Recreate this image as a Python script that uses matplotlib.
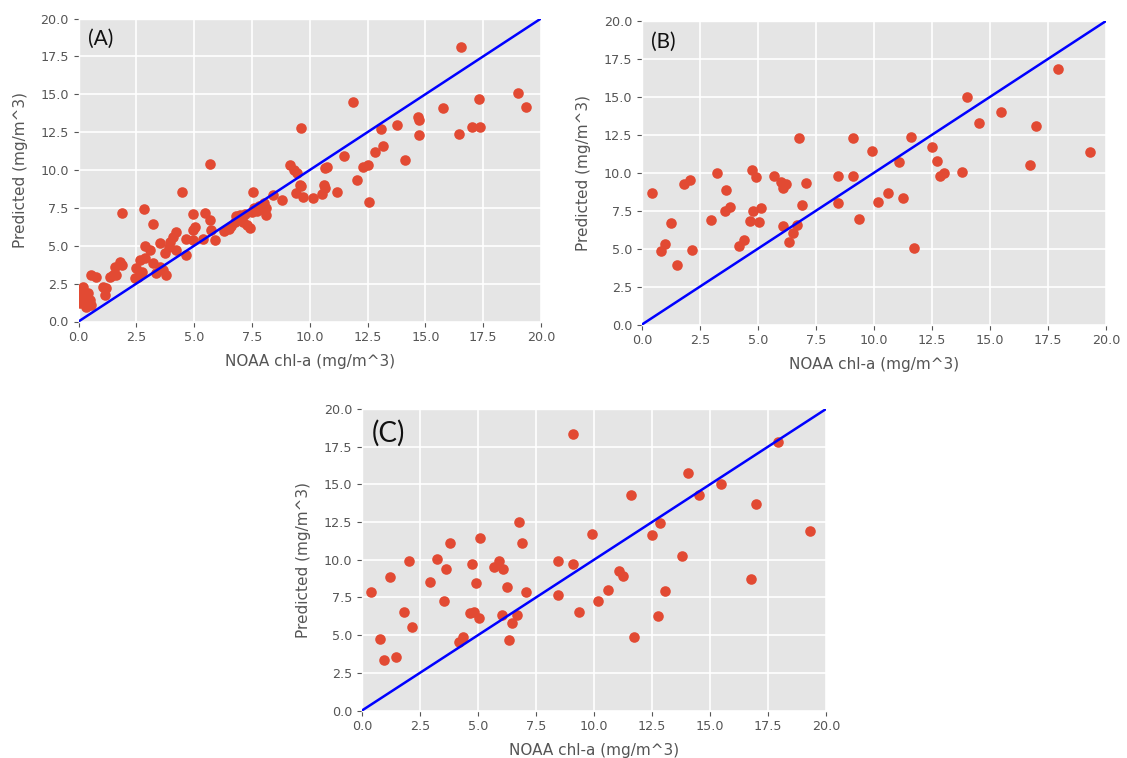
import matplotlib
matplotlib.use("Agg")
import matplotlib.pyplot as plt

plt.style.use("ggplot")

# ---- data ----
A_x = [0.19, 0.12, 0.05, 0.41, 0.48, 0.26, 0.55, 0.05, 0.34, 0.10, 0.20,
       0.55, 0.77, 1.06, 1.13, 1.20,
       1.78, 1.56, 1.35, 1.64, 1.50, 1.90,
       1.88, 2.82, 3.22,
       2.65, 2.50, 2.57, 2.43, 2.75,
       2.86, 3.08, 2.86,
       3.22, 3.51, 3.37, 3.80, 3.66,
       4.23, 4.09, 3.94, 3.51, 3.73, 4.23, 3.90,
       4.49, 4.67, 4.67, 4.95, 5.03, 4.95, 5.39, 5.75, 5.89, 5.68, 4.95, 5.46, 5.70,
       6.30, 6.50, 6.60, 6.75, 6.80, 7.00, 7.10, 7.30, 7.40, 7.50, 7.60, 7.55, 7.70,
       7.80, 7.90, 8.00, 8.10, 8.10, 7.20, 6.90,
       8.39, 8.82, 9.14, 9.31, 9.43, 9.57, 9.40, 9.71, 9.64, 9.64, 10.15, 10.51,
       10.61, 10.65, 11.19, 10.73, 10.65, 11.46, 11.88, 12.03, 12.31, 12.52, 12.56,
       12.80, 13.18, 13.08, 13.76, 14.12, 14.67, 14.72, 14.72, 15.75, 16.47, 16.54,
       17.03, 17.38, 17.32, 19.00, 19.35]
A_y = [2.29, 1.96, 1.63, 1.85, 1.41, 1.30, 1.08, 1.19, 0.97, 2.10, 1.50,
       3.07, 2.95, 2.29, 1.74, 2.20,
       3.95, 3.62, 2.95, 3.07, 3.10, 3.70,
       7.17, 7.42, 6.42,
       4.06, 3.51, 2.95, 2.85, 3.30,
       4.99, 4.72, 4.17,
       3.84, 3.62, 3.18, 3.07, 3.40,
       5.93, 5.60, 5.27, 5.16, 4.50, 4.72, 4.90,
       8.54, 4.39, 5.47, 6.05, 6.26, 5.38, 5.47, 6.05, 5.38, 6.71, 7.10, 7.15, 10.40,
       5.95, 6.10, 6.30, 6.55, 6.95, 7.05, 6.60, 6.40, 6.20, 7.20, 7.50, 8.54, 7.30,
       7.60, 7.40, 7.80, 7.00, 7.50, 7.10, 6.80,
       8.34, 7.99, 10.33, 10.02, 9.80, 9.03, 8.48, 8.25, 12.78, 8.96, 8.15, 8.41,
       8.98, 8.80, 8.54, 10.20, 10.10, 10.90, 14.52, 9.34, 10.17, 10.30, 7.88,
       11.17, 11.56, 12.69, 12.95, 10.64, 13.51, 13.31, 12.32, 14.06, 12.40, 18.12,
       12.85, 12.85, 14.70, 15.07, 14.17]

B_x = [0.41, 1.23, 0.99, 0.81, 1.49, 2.17, 1.81, 2.09, 2.96, 3.24, 3.63, 3.56,
       3.80, 4.20, 4.41, 4.74, 4.92, 4.67, 5.06, 4.80, 5.13, 5.70, 5.99, 6.20,
       6.06, 6.77, 7.09, 6.89, 6.06, 6.66, 6.49, 6.34, 8.44, 8.44, 9.10, 9.10,
       9.34, 9.92, 11.06, 11.59, 10.59, 10.17, 11.23, 11.73, 12.49, 12.73, 12.85,
       13.03, 13.80, 14.03, 14.53, 15.46, 16.97, 16.72, 17.92, 19.29]
B_y = [8.69, 6.67, 5.29, 4.85, 3.92, 4.91, 9.26, 9.53, 6.89, 9.97, 8.87, 7.48,
       7.77, 5.17, 5.57, 10.18, 9.70, 6.84, 6.74, 7.50, 7.66, 9.81, 9.42, 9.26,
       8.98, 12.27, 9.35, 7.88, 6.51, 6.56, 6.05, 5.42, 9.79, 8.03, 12.27, 9.79,
       6.95, 11.46, 10.71, 12.38, 8.69, 8.05, 8.32, 5.02, 11.72, 10.80, 9.79,
       9.97, 10.05, 15.02, 13.26, 14.00, 13.08, 10.53, 16.84, 11.35]

C_x = [9.09, 0.38, 0.78, 0.96, 1.45, 1.21, 1.81, 2.17, 2.04, 2.94, 3.24, 3.60,
       3.79, 3.53, 4.19, 4.36, 4.72, 4.65, 4.81, 5.04, 4.92, 5.09, 5.68, 5.90,
       6.08, 6.23, 6.04, 6.47, 6.34, 6.66, 6.76, 6.90, 7.07, 8.45, 8.45, 9.09,
       9.35, 9.91, 10.17, 10.60, 11.06, 11.27, 11.60, 11.72, 12.51, 12.86, 12.75,
       13.04, 13.81, 14.07, 14.54, 15.49, 16.99, 16.77, 17.95, 19.32]
C_y = [18.35, 7.84, 4.77, 3.35, 3.57, 8.87, 6.53, 5.57, 9.95, 8.51, 10.07, 9.40,
       11.09, 7.29, 4.57, 4.87, 9.69, 6.47, 6.53, 6.15, 8.49, 11.47, 9.53, 9.95,
       9.40, 8.20, 6.35, 5.80, 4.69, 6.35, 12.49, 11.09, 7.84, 9.95, 7.64, 9.69,
       6.53, 11.69, 7.29, 8.02, 9.24, 8.95, 14.29, 4.87, 11.67, 12.47, 6.24,
       7.95, 10.24, 15.77, 14.27, 15.02, 13.73, 8.75, 17.80, 11.91]

diag = [0, 20]
ticks = [0.0, 2.5, 5.0, 7.5, 10.0, 12.5, 15.0, 17.5, 20.0]
tick_labels = ["0.0", "2.5", "5.0", "7.5", "10.0", "12.5", "15.0", "17.5", "20.0"]
panel_labels = ["(A)", "(B)", "(C)"]
xlabel = "NOAA chl-a (mg/m^3)"
ylabel = "Predicted (mg/m^3)"

W, H = 1127, 758
fig = plt.figure(figsize=(W / 100, H / 100), dpi=100)

def rect(l, r, t, b):
    return [l / W, (H - b) / H, (r - l) / W, (b - t) / H]

boxes = [rect(78.5, 541, 18.5, 321.5), rect(642, 1106, 21, 324.5), rect(362, 826, 409, 710.5)]
datasets = [(A_x, A_y), (B_x, B_y), (C_x, C_y)]
label_sizes = [15, 15, 20]

for box, (xs, ys), lab, lsz in zip(boxes, datasets, panel_labels, label_sizes):
    ax = fig.add_axes(box)
    ax.scatter(xs, ys, s=58, color="#E24A33", zorder=3, linewidths=0)
    ax.plot(diag, diag, color="#0000ff", lw=1.8, zorder=4)
    ax.set_xlim(0, 20)
    ax.set_ylim(0, 20)
    ax.set_xticks(ticks)
    ax.set_yticks(ticks)
    ax.set_xticklabels(tick_labels, fontsize=9.2, color="#555555")
    ax.set_yticklabels(tick_labels, fontsize=9.2, color="#555555")
    ax.set_xlabel(xlabel, fontsize=11, color="#555555", labelpad=7)
    ax.set_ylabel(ylabel, fontsize=11, color="#555555", labelpad=9)
    ax.grid(True, color="white", lw=1.2)
    ax.set_axisbelow(True)
    ax.text(0.02, 0.965, lab, transform=ax.transAxes, fontsize=lsz, family="Lato",
            color="#111111", ha="left", va="top")

fig.savefig("out.png", dpi=100, facecolor="white")
